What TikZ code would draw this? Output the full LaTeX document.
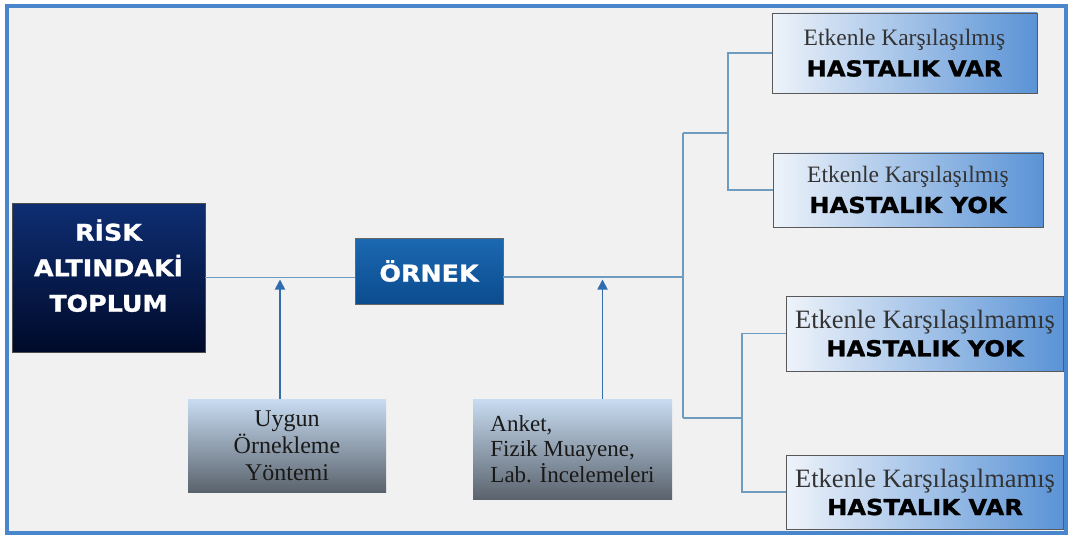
\documentclass[tikz,border=0pt]{standalone}
\usepackage{fontspec}
\setmainfont{Liberation Serif}
\newfontfamily\bsf{DejaVu Sans}[FakeStretch=1.1, BoldFeatures={FakeBold=1.2}]
\usetikzlibrary{arrows.meta}
\definecolor{frameblue}{HTML}{4A86CC}
\definecolor{bgray}{HTML}{F1F1F1}
\definecolor{navytop}{HTML}{0E2E72}
\definecolor{navybot}{HTML}{000A2A}
\definecolor{ornektop}{HTML}{1C68B2}
\definecolor{ornekbot}{HTML}{0B4C8E}
\definecolor{boxlight}{HTML}{EEF3FA}
\definecolor{boxblue}{HTML}{5A93D6}
\definecolor{lowtop}{HTML}{C8DCF2}
\definecolor{lowbot}{HTML}{5A636D}
\definecolor{connc}{HTML}{6E9CC0}
\definecolor{arrc}{HTML}{2F6DAE}
% #1 serif line, #2 bold line
\newcommand\twoline[2]{{\color{black!80}#1}\\{\bsf\bfseries\fontsize{22}{22}\selectfont #2}}
\tikzset{
  darkbox/.style={draw=black!70, line width=0.6pt, inner sep=0pt, align=center, text=white,
    top color=navytop, bottom color=navybot},
  bluebox/.style={draw=black!60, line width=0.6pt, inner sep=0pt, align=center, text=white,
    top color=ornektop, bottom color=ornekbot},
  outbox/.style 2 args={draw=black!65, line width=0.8pt, inner sep=0pt, align=center, text=black,
    left color=boxlight, right color=boxblue, font=\fontsize{#1}{#2}\selectfont},
  lowbox/.style={draw=none, inner sep=0pt, text=black!90,
    top color=lowtop, bottom color=lowbot},
  conn/.style={draw=connc, line width=1.4pt},
  arr/.style={draw=arrc, line width=1.8pt, -{Triangle[length=10pt,width=10pt]}, shorten >=2pt},
  bigbold/.style={font=\bsf\bfseries\fontsize{23}{35.5}\selectfont},
  midbold/.style={font=\bsf\bfseries\fontsize{23}{26}\selectfont},
}
\begin{document}
\begin{tikzpicture}[x=1pt,y=-1pt]
\useasboundingbox (0,0) rectangle (1070,540);
\fill[white] (0,0) rectangle (1070,540);
\draw[frameblue, line width=4pt, fill=bgray] (7,6) rectangle (1066,533);

% main nodes
\node[darkbox, bigbold, minimum width=193pt, minimum height=149pt, text depth=24pt] (risk) at (108.5,277.5)
  {RİSK\\ALTINDAKİ\\TOPLUM};
\node[bluebox, midbold, minimum width=148pt, minimum height=66pt] (ornek) at (429,271) {ÖRNEK};

% outcome boxes
\node[outbox={23.5}{31}, minimum width=265pt, minimum height=80pt] (b1) at (904.5,53)
  {\twoline{Etkenle Karşılaşılmış}{HASTALIK VAR}};
\node[outbox={23.5}{30}, minimum width=270pt, minimum height=74pt] (b2) at (908,190)
  {\twoline{Etkenle Karşılaşılmış}{HASTALIK YOK}};
\node[outbox={26.5}{27.5}, minimum width=277pt, minimum height=75pt] (b3) at (925,333.5)
  {\twoline{Etkenle Karşılaşılmamış}{HASTALIK YOK}};
\node[outbox={26.5}{28}, minimum width=277pt, minimum height=74pt] (b4) at (925,492)
  {\twoline{Etkenle Karşılaşılmamış}{HASTALIK VAR}};

% lower boxes
\node[lowbox, align=center, minimum width=198pt, minimum height=93pt,
  font=\fontsize{24}{27}\selectfont] (uygun) at (287,445.5)
  {Uygun\\Örnekleme\\Yöntemi};
\node[lowbox, align=left, minimum width=199pt, minimum height=100pt,
  font=\fontsize{23}{25.5}\selectfont] (anket) at (572.5,449)
  {Anket,\\Fizik Muayene,\\Lab. İncelemeleri};

% connectors
\coordinate (j1) at (683,277);
\coordinate (t1) at (683,133);
\coordinate (t2) at (683,418);
\coordinate (k1) at (728,133);
\coordinate (k2) at (742,418);
\draw[conn] (risk.east) -- (risk.east -| ornek.west);
\draw[conn] (ornek.east |- j1) -- (j1);
\draw[conn] (t1) -- (t2);
\draw[conn] (t1) -- (k1);
\draw[conn] (t2) -- (k2);
\draw[conn] (b1.west) -| (k1) |- (b2.west);
\draw[conn] (b3.west) -| (k2) |- (b4.west);

% arrows
\draw[arr] ([xshift=-7pt]uygun.north) -- ([xshift=-7pt]uygun.north |- risk.east);
\draw[arr] ([xshift=30pt]anket.north) -- ([xshift=30pt]anket.north |- risk.east);
\end{tikzpicture}
\end{document}
